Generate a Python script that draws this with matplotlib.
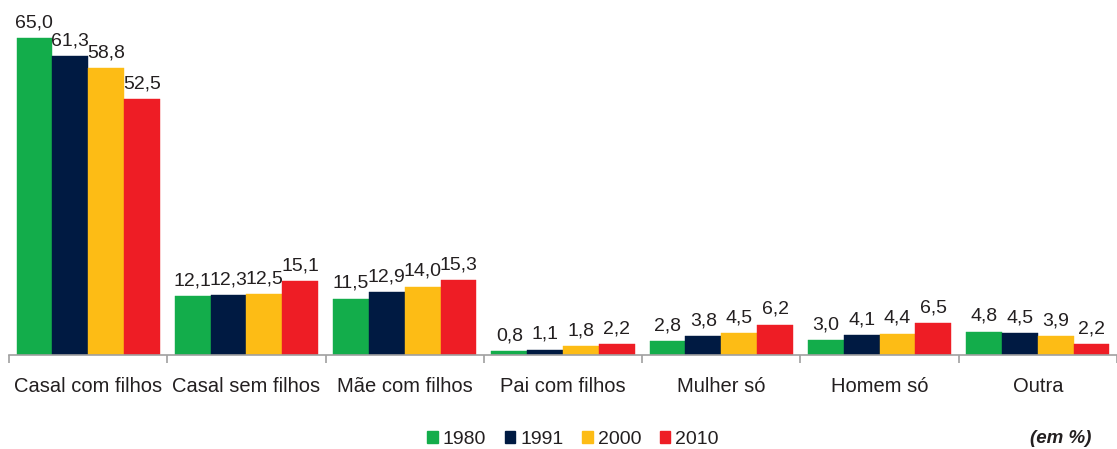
import matplotlib
matplotlib.use("Agg")
import matplotlib.pyplot as plt
from matplotlib import font_manager
import numpy as np

categories = ["Casal com filhos", "Casal sem filhos", "Mãe com filhos",
              "Pai com filhos", "Mulher só", "Homem só", "Outra"]
years = ["1980", "1991", "2000", "2010"]
values_1980 = [65.0, 12.1, 11.5, 0.8, 2.8, 3.0, 4.8]
values_1991 = [61.3, 12.3, 12.9, 1.1, 3.8, 4.1, 4.5]
values_2000 = [58.8, 12.5, 14.0, 1.8, 4.5, 4.4, 3.9]
values_2010 = [52.5, 15.1, 15.3, 2.2, 6.2, 6.5, 2.2]
series = [values_1980, values_1991, values_2000, values_2010]
colors = ["#13AD4B", "#001A42", "#FDBC15", "#EE1D25"]

plt.rcParams["font.family"] = ["Liberation Sans", "DejaVu Sans"]
installed = {f.name for f in font_manager.fontManager.ttflist}
if "Liberation Sans Narrow" in installed:
    legend_font = dict(family="Liberation Sans Narrow", size=16)
else:
    legend_font = dict(family="Liberation Sans", size=14)

text_color = "#231F20"

fig = plt.figure(figsize=(11.17, 4.49), dpi=100)
ax = fig.add_axes([9 / 1117, (449 - 355) / 449, 1 - 9 / 1117, 355 / 449])

n = len(series)
group_frac = 0.905
bw = group_frac / n
x = np.arange(len(categories))

for i, (vals, col) in enumerate(zip(series, colors)):
    pos = x - group_frac / 2 + bw * (i + 0.5)
    ax.bar(pos, vals, width=bw, color=col, label=years[i],
           edgecolor=col, linewidth=0.3, zorder=2)
    for p, v in zip(pos, vals):
        ax.annotate(f"{v:.1f}".replace(".", ","),
                    xy=(p, v), xytext=(0, 5), textcoords="offset points",
                    ha="center", va="bottom", fontsize=14, color=text_color)

ax.set_xlim(-0.5, len(categories) - 0.5)
ax.set_ylim(0, 72.8)
ax.set_yticks([])
for s in ["left", "right", "top"]:
    ax.spines[s].set_visible(False)
ax.spines["bottom"].set_color("#A0A0A0")
ax.spines["bottom"].set_linewidth(1.2)

# group boundary ticks, labels centred between them
ax.set_xticks(np.arange(len(categories) + 1) - 0.5)
ax.set_xticklabels([])
ax.tick_params(axis="x", which="major", length=6, color="#A0A0A0", width=1.2)
ax.set_xticks(x, minor=True)
ax.set_xticklabels(categories, minor=True, fontsize=14.5, color=text_color)
ax.tick_params(axis="x", which="minor", length=0, pad=16)

handles = [plt.Rectangle((0, 0), 1, 1, color=c) for c in colors]
leg = fig.legend(handles, years, loc="center", bbox_to_anchor=(0.513, 0.022),
                 ncol=4, frameon=False, prop=legend_font, handlelength=0.55,
                 handleheight=0.55, handletextpad=0.25, columnspacing=0.95)
for t in leg.get_texts():
    t.set_color(text_color)

fig.text(0.977, 0.024, "(em %)", ha="right", va="center", fontsize=13.5,
         fontweight="bold", fontstyle="italic", color=text_color)

fig.savefig("out.png", dpi=100)
